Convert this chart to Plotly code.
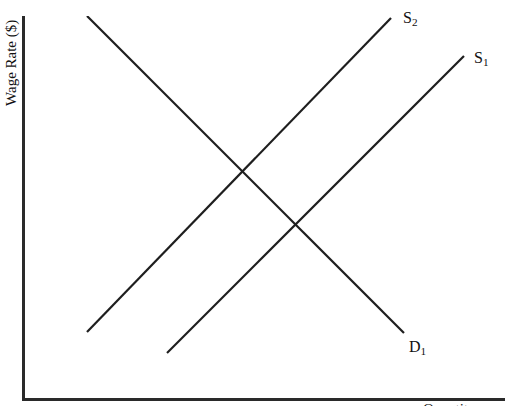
import plotly.graph_objects as go

# endpoints of each curve (quantity, wage rate)
d1_q = [62, 379]
d1_w = [382, 65]
s2_q = [62, 366]
s2_w = [66, 380]
s1_q = [142, 439]
s1_w = [45, 342]

curve_labels = ["S<sub>2</sub>", "S<sub>1</sub>", "D<sub>1</sub>"]

fig = go.Figure()
for q, w in [(d1_q, d1_w), (s2_q, s2_w), (s1_q, s1_w)]:
    fig.add_trace(go.Scatter(x=q, y=w, mode="lines",
                             line=dict(color="#1e1e1e", width=2.2),
                             hoverinfo="skip"))

# labels sit just past the end of each line
label_pos = [(s2_q[1], s2_w[1]), (s1_q[1], s1_w[1]), (d1_q[1], d1_w[1])]
label_off = [(10, 0), (8, -2), (3, -14)]
for txt, (x, y), (dx, dy) in zip(curve_labels, label_pos, label_off):
    fig.add_annotation(x=x, y=y, text=txt, showarrow=False,
                       xanchor="left", yanchor="middle", xshift=dx, yshift=dy,
                       font=dict(family="Liberation Serif", size=16, color="#111"))

fig.add_annotation(xref="paper", yref="paper", x=0, y=0.877, xshift=-13,
                   xanchor="center", yanchor="middle",
                   text="Wage Rate ($)", textangle=-90, showarrow=False,
                   font=dict(family="Liberation Serif", size=15, color="#111"))
# axis title is mostly cut off by the bottom edge in the original
fig.add_annotation(xref="paper", yref="paper", x=0.944, y=0, yshift=-1,
                   text="Quantity", showarrow=False, yanchor="top",
                   font=dict(family="Liberation Serif", size=15, color="#111"))

fig.update_xaxes(range=[0, 480], showline=True, linecolor="#2a2a2a", linewidth=2.5,
                 showgrid=False, zeroline=False, showticklabels=False, ticks="")
fig.update_yaxes(range=[0, 382], showline=True, linecolor="#2a2a2a", linewidth=2.5,
                 showgrid=False, zeroline=False, showticklabels=False, ticks="")
fig.update_layout(width=512, height=406, showlegend=False,
                  margin=dict(l=25, r=7, t=16, b=8),
                  paper_bgcolor="white", plot_bgcolor="white")

# drop the default 8px body margin so the figure fills the window
fig.write_html("out.html", config={"displayModeBar": False},
               post_script="document.body.style.margin='0';")
